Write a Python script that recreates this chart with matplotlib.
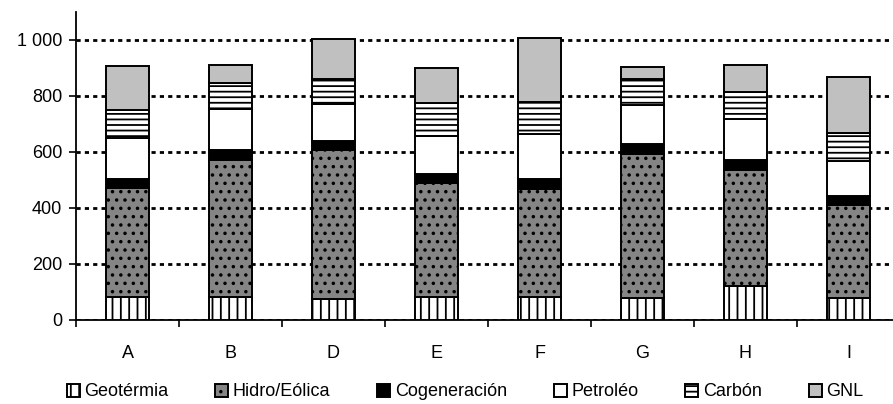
import matplotlib
matplotlib.use('Agg')
import matplotlib.pyplot as plt
import numpy as np
from matplotlib.ticker import FuncFormatter

plt.rcParams['font.family'] = ['Liberation Sans', 'DejaVu Sans']
plt.rcParams['hatch.linewidth'] = 1.3

categories = ['A', 'B', 'D', 'E', 'F', 'G', 'H', 'I']
geotermia = [83, 83, 74, 83, 83, 80, 121, 80]
hidro = [388, 489, 533, 406, 386, 514, 416, 332]
cogen = [34, 34, 32, 34, 33, 33, 33, 32]
petroleo = [145, 148, 132, 134, 163, 140, 148, 124]
carbon = [100, 94, 89, 118, 114, 94, 98, 101]
gnl = [157, 63, 143, 126, 227, 42, 94, 198]

series = [
    ('Geotérmia', geotermia, 'white', '||'),
    ('Hidro/Eólica', hidro, '#858585', '..'),
    ('Cogeneración', cogen, 'black', None),
    ('Petroléo', petroleo, 'white', None),
    ('Carbón', carbon, 'white', '---'),
    ('GNL', gnl, '#c0c0c0', None),
]

fig = plt.figure(figsize=(8.93, 4.04), dpi=100)
ax = fig.add_axes([76/893, 84/404, 824/893, 308/404])

x = np.arange(len(categories))
bottom = np.zeros(len(categories))
handles = []
for name, vals, fc, hatch in series:
    vals = np.array(vals, dtype=float)
    b = ax.bar(x, vals, 0.41, bottom=bottom, color=fc, hatch=hatch,
               edgecolor='black', linewidth=1.4, zorder=3, label=name)
    handles.append(b)
    bottom += vals

ax.set_xlim(-0.5, 7.5)
ax.set_ylim(0, 1100)
ax.set_yticks(np.arange(0, 1001, 200))
ax.yaxis.set_major_formatter(FuncFormatter(lambda v, p: f'{int(v):,}'.replace(',', ' ')))
ax.set_xticks(x)
ax.set_xticklabels(categories)
ax.set_xticks(np.arange(-0.5, 7.6, 1), minor=True)
ax.tick_params(axis='x', which='major', length=0, pad=18, labelsize=13)
ax.tick_params(axis='x', which='minor', length=5, width=1.2, direction='out')
ax.tick_params(axis='y', length=5, width=1.2, direction='out', labelsize=13, pad=5)

ax.spines['top'].set_visible(False)
ax.spines['right'].set_visible(False)
ax.spines['left'].set_linewidth(1.3)
ax.spines['bottom'].set_linewidth(1.3)

ax.set_axisbelow(True)
ax.yaxis.grid(True, color='black', linewidth=2, linestyle=(0, (1.5, 1.5)))

fig.legend(handles=handles, loc='center', bbox_to_anchor=(465/893, 0.03), ncol=6,
           frameon=False, fontsize=13, handlelength=0.72, handleheight=0.72,
           handletextpad=0.25, columnspacing=2.6)

fig.savefig('out.png', dpi=100)
